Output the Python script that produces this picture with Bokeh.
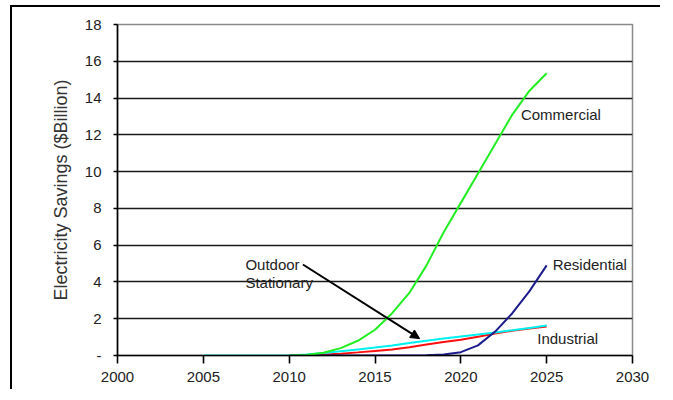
from bokeh.plotting import figure
from bokeh.models import Range1d, FixedTicker, Arrow, NormalHead, Label, Div
from bokeh.layouts import column
from bokeh.embed import file_html
from bokeh.resources import INLINE

# ---- data ----
years = list(range(2010, 2026))
years_cyan = list(range(2005, 2026))
commercial = [0, 0.03, 0.15, 0.4, 0.8, 1.4, 2.3, 3.4, 4.9, 6.7, 8.3, 9.9, 11.5, 13.1, 14.4, 15.35]
residential = [0, 0, 0, 0, 0, 0, 0, 0, 0.01, 0.05, 0.18, 0.55, 1.3, 2.3, 3.5, 4.9]
industrial = [0, 0.02, 0.05, 0.1, 0.17, 0.25, 0.33, 0.45, 0.6, 0.74, 0.86, 1.02, 1.2, 1.35, 1.47, 1.57]
outdoor_stationary = [0, 0, 0, 0, 0, 0, 0.05, 0.13, 0.23, 0.33, 0.43, 0.55, 0.68, 0.8, 0.92,
                      1.03, 1.14, 1.25, 1.37, 1.5, 1.63]
x_ticks = [2000, 2005, 2010, 2015, 2020, 2025, 2030]
y_ticks = [0, 2, 4, 6, 8, 10, 12, 14, 16, 18]
y_label = "Electricity Savings ($Billion)"

FONT = "Liberation Sans"
TXT = "#222222"

# thin black strip: the outer frame's top edge
top_edge = Div(text="", width=650, height=2, margin=(5, 0, 0, 10),
               styles={"background-color": "black"})

p = figure(width=648, height=382, output_backend="svg", toolbar_location=None,
           x_range=Range1d(2000, 2030), y_range=Range1d(0, 18),
           min_border_left=105, min_border_right=28, min_border_top=17, min_border_bottom=34)
p.margin = (0, 0, 0, 12)
p.styles = {"box-shadow": "-2px 0px 0px 0px black"}

p.background_fill_color = "white"
p.border_fill_color = "white"
p.outline_line_color = "#8a8a8a"
p.outline_line_width = 1.5

p.xgrid.visible = False
p.ygrid.ticker = FixedTicker(ticks=[2, 4, 6, 8, 10, 12, 14, 16])
p.ygrid.grid_line_color = "#1a1a1a"
p.ygrid.grid_line_width = 1.4

p.xaxis.ticker = FixedTicker(ticks=x_ticks)
p.yaxis.ticker = FixedTicker(ticks=y_ticks)
p.yaxis.major_label_overrides = {0: "-"}
for ax in (p.xaxis[0], p.yaxis[0]):
    ax.axis_line_color = "black"
    ax.axis_line_width = 1.6
    ax.major_tick_line_color = "black"
    ax.major_tick_line_width = 1.6
    ax.major_tick_in = 0
    ax.minor_tick_line_color = None
    ax.major_label_text_font = FONT
    ax.major_label_text_font_size = "15px"
    ax.major_label_text_color = TXT
p.xaxis.major_tick_out = 8
p.xaxis.major_label_standoff = 8
p.yaxis.major_tick_out = 4
p.yaxis.major_label_standoff = 12
p.yaxis.axis_label = y_label
p.yaxis.axis_label_text_font = FONT
p.yaxis.axis_label_text_font_size = "18px"
p.yaxis.axis_label_text_font_style = "normal"
p.yaxis.axis_label_text_color = "#333333"
p.yaxis.axis_label_standoff = 11

p.line(years, industrial, line_color="#ff1010", line_width=2)
p.line(years_cyan, outdoor_stationary, line_color="#00f0f0", line_width=2)
p.line(years, residential, line_color="#1c1c8c", line_width=2)
p.line(years, commercial, line_color="#22ee22", line_width=2)

p.add_layout(Arrow(end=NormalHead(size=9, fill_color="black", line_color="black"),
                   x_start=2010.8, y_start=4.95, x_end=2017.6, y_end=0.92,
                   line_color="black", line_width=2))

def lab(x, y, t):
    p.add_layout(Label(x=x, y=y, text=t, text_font=FONT, text_font_size="15px",
                       text_color=TXT, text_baseline="middle", text_align="left"))

lab(2023.5, 13.13, "Commercial")
lab(2025.35, 4.95, "Residential")
lab(2024.45, 0.9, "Industrial")
lab(2007.45, 4.95, "Outdoor")
lab(2007.45, 3.97, "Stationary")

layout = column(top_edge, p, spacing=0)
open("out.html", "w").write(file_html(layout, INLINE))
